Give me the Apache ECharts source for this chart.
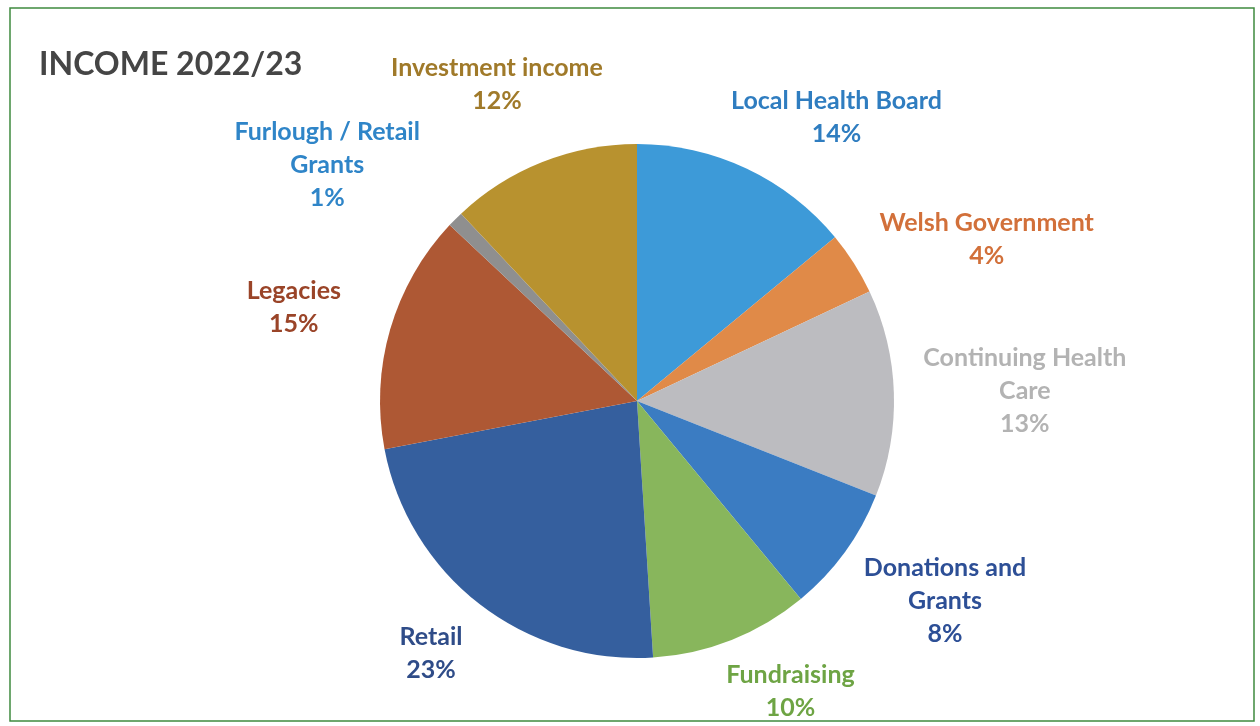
<!DOCTYPE html>
<html>
<head>
<meta charset="utf-8">
<script src="https://cdn.jsdelivr.net/npm/echarts@6/dist/echarts.min.js"></script>
<style>
  html, body { margin: 0; padding: 0; background: #fff; }
  #pie { width: 1260px; height: 726px; }
</style>
</head>
<body>
<div id="pie"></div>
<script>
// income sources, clockwise from 12 o'clock
var categories = ['Local Health Board', 'Welsh Government', 'Continuing Health\nCare', 'Donations and\nGrants',
  'Fundraising', 'Retail', 'Legacies', 'Furlough / Retail\nGrants', 'Investment income'];
var shares = [14, 4, 13, 8, 10, 23, 15, 1, 12];
var sliceColors = ['#3d9ad8', '#e08a48', '#bcbcc0', '#3b7cc2', '#88b65c', '#355f9e', '#ae5834', '#8f8f8f', '#b8922f'];
var labelColors = ['#2f7dc0', '#d2703a', '#b3b3b3', '#2d4f96', '#6ea444', '#2f4c88', '#9a4428', '#2f85c8', '#a07a2a'];
// hand placement of the labels (px), like the labels dragged around in the original
var labelNudge = [[48, 38], [21, 47], [4, 2], [4, -21], [30, -21], [-6, -5], [-21, 0], [-40, 34], [-11, 10]];

function piechart(){
  var chartDom = document.getElementById('pie');
  var myChart = echarts.init(chartDom);

  var cx = 637, cy = 401, r = 257, gap = 24;
  var total = shares.reduce(function(a, b){ return a + b; }, 0);
  var mids = [], acc = 0;
  shares.forEach(function(v){
    mids.push((acc + v / 2) / total * Math.PI * 2);
    acc += v;
  });

  var data = categories.map(function(name, i){
    return {
      value: shares[i],
      name: name,
      itemStyle: { color: sliceColors[i] },
      label: { color: labelColors[i] }
    };
  });

  option = {
    graphic: [{
      type: 'rect',
      shape: { x: 10, y: 8, width: 1244, height: 713 },
      style: { fill: 'none', stroke: '#3f8a3f', lineWidth: 1.5 },
      silent: true
    }],
    title: {
      text: 'INCOME 2022/23',
      left: 34,
      top: 44,
      textStyle: { fontFamily: 'Lato', fontSize: 32, fontWeight: 'bold', color: '#454545' }
    },
    series: [
      {
        type: 'pie',
        radius: r,
        center: [cx, cy],
        startAngle: 90,
        clockwise: true,
        animation: false,
        data: data,
        label: {
          show: true,
          position: 'outside',
          fontFamily: 'Lato',
          fontWeight: 'bold',
          fontSize: 25,
          lineHeight: 33,
          align: 'center',
          formatter: function(p){ return p.name + '\n' + Math.round(p.percent) + '%'; }
        },
        labelLine: { show: false },
        labelLayout: function(params){
          var i = params.dataIndex;
          var a = mids[i];
          var ux = Math.sin(a), uy = -Math.cos(a);
          var w = params.labelRect.width, h = params.labelRect.height;
          var d = r + gap + Math.abs(ux) * w / 2 + Math.abs(uy) * h / 2;
          return {
            x: cx + ux * d + labelNudge[i][0],
            y: cy + uy * d + labelNudge[i][1],
            align: 'center',
            verticalAlign: 'middle'
          };
        }
      }
    ]
  };

  option && myChart.setOption(option);
}

window.onload = function(e){
  piechart();
};
</script>
</body>
</html>
